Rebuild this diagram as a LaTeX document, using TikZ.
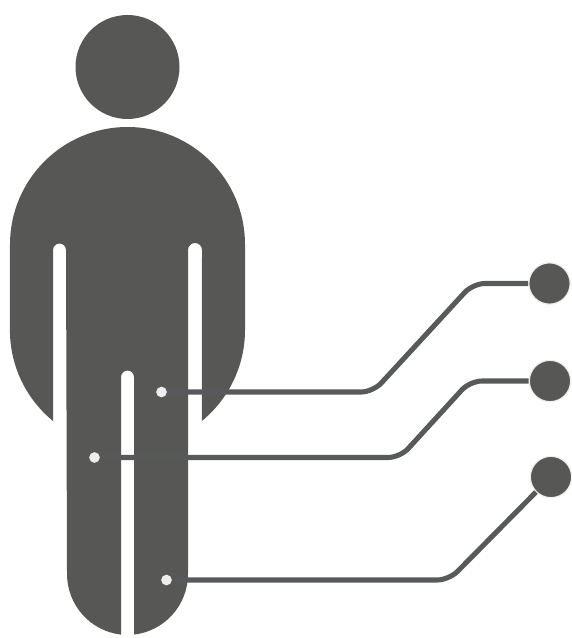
\documentclass[tikz,border=0pt]{standalone}
\usepackage{xcolor}
\usetikzlibrary{calc}
\definecolor{bodygray}{HTML}{575756}
\definecolor{linegray}{HTML}{58595B}
\definecolor{dotwhite}{HTML}{EDEDED}
\tikzset{
  sitedot/.style={circle, fill=dotwhite, inner sep=0pt, minimum size=8pt},
  endball/.style={circle, fill=bodygray, draw=dotwhite, line width=0.9pt, inner sep=0pt, minimum size=31pt},
  leadline/.style={draw=linegray, line width=3.8pt, rounded corners=9pt}
}
\begin{document}
\begin{tikzpicture}[x=0.75pt, y=-0.75pt]
  \useasboundingbox (0, 0) rectangle (571, 638);

  % Figure
  \node[circle, fill=bodygray, inner sep=0pt, minimum size=78pt] (head) at (127.5, 67) {};
  \fill[bodygray] (10, 244.5) arc (180:360:117.5) -- (245, 330)
    arc (0:50.7:117.5) -- (202, 250) arc (0:-180:7) -- (188, 574)
    arc (0:83.4:61) -- (134, 377) arc (0:-180:6.5) -- (121, 634.6)
    arc (96.6:180:61) -- (66, 250) arc (0:-180:6.5) -- (53, 421)
    arc (129.3:180:117.5) -- cycle;

  % Sites and end points
  \node[sitedot] (site1) at (161.5, 392) {};
  \node[sitedot] (site2) at (94.5, 457.5) {};
  \node[sitedot] (site3) at (166.5, 580) {};
  \node[endball] (ball1) at (549.5, 283.5) {};
  \node[endball] (ball2) at (550, 381) {};
  \node[endball] (ball3) at (551, 477) {};

  % Leads
  \draw[leadline] (site1.east) -- (373, 392) -- (473, 283.5) -- (ball1.west);
  \draw[leadline] (site2.east) -- (400, 457.5) -- (470, 381) -- (ball2.west);
  \draw[leadline] (site3.east) -- (449, 580) -- (ball3.south west);
\end{tikzpicture}
\end{document}
